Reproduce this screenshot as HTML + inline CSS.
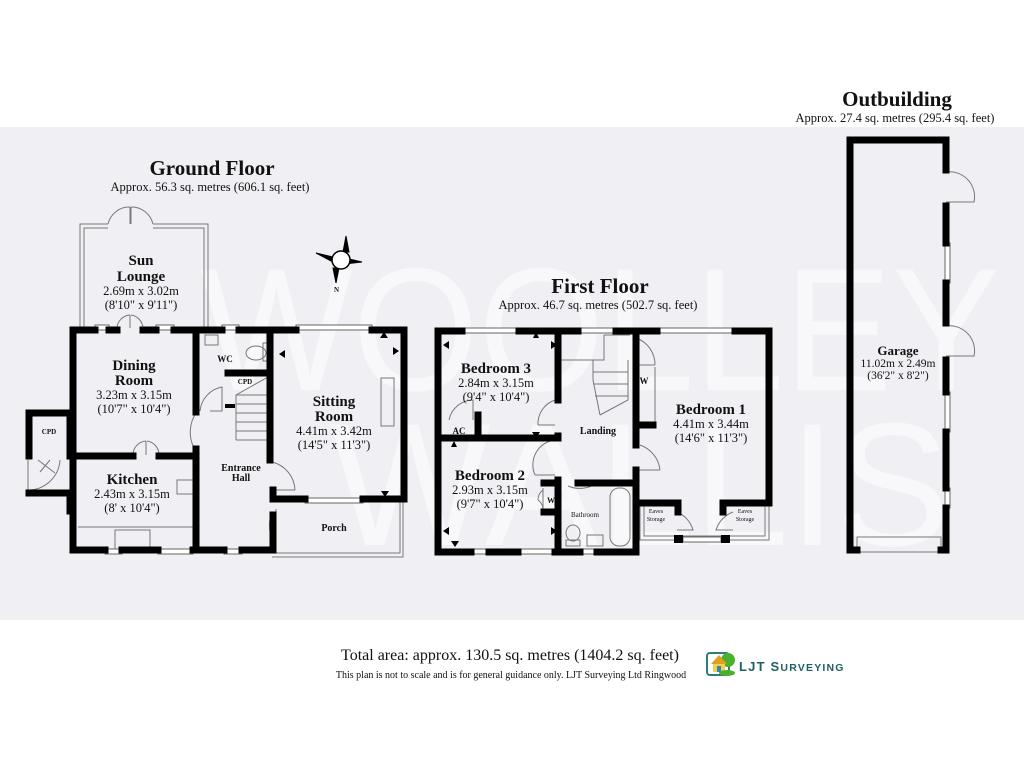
<!DOCTYPE html>
<html><head><meta charset="utf-8"><style>
html,body{margin:0;padding:0;background:#fff;}
svg{display:block;}
text{font-family:"Liberation Serif",serif;fill:#111;}
.b{font-weight:bold;}
</style></head><body>
<svg width="1024" height="768" viewBox="0 0 1024 768" xmlns="http://www.w3.org/2000/svg">
<rect x="0" y="127" width="1024" height="493" fill="#f0eff4"/>
<!-- watermark -->
<g opacity="0.55">
<text x="200" y="390" font-size="175" textLength="800" lengthAdjust="spacingAndGlyphs" style="font-family:'Liberation Sans',sans-serif;fill:#fff">WOOLLEY</text>
<text x="330" y="545" font-size="175" textLength="620" lengthAdjust="spacingAndGlyphs" style="font-family:'Liberation Sans',sans-serif;fill:#fff">WALLIS</text>
</g>

<!-- titles -->
<text x="212" y="175" font-size="21" class="b" text-anchor="middle">Ground Floor</text>
<text x="210" y="191" font-size="12.5" text-anchor="middle">Approx. 56.3 sq. metres (606.1 sq. feet)</text>
<text x="600" y="293" font-size="21" class="b" text-anchor="middle">First Floor</text>
<text x="598" y="309" font-size="12.5" text-anchor="middle">Approx. 46.7 sq. metres (502.7 sq. feet)</text>
<text x="897" y="106" font-size="21" class="b" text-anchor="middle">Outbuilding</text>
<text x="895" y="122" font-size="12.5" text-anchor="middle">Approx. 27.4 sq. metres (295.4 sq. feet)</text>

<!-- compass -->
<g stroke="#000" fill="#000">
<polygon points="346,236 343,252 349,252" />
<polygon points="316,253 333,257 333,262"/>
<polygon points="362,262 345,258 345,264"/>
<polygon points="336,283 339,268 333,268"/>
<circle cx="341" cy="260" r="9" fill="#fff" stroke-width="1.5"/>
</g>
<text x="334" y="292" font-size="7" class="b">N</text>

<!-- GROUND FLOOR -->
<g fill="none" stroke="#777" stroke-width="1">
<path d="M80,327 V224 H108 M153,224 H208 V327"/>
<path d="M84,327 V228 H108 M153,228 H204 V327"/>
<path d="M108,224 A22,22 0 0 1 130,207 M153,224 A22,22 0 0 0 131,207 M130,207 V224 M131,207 V224"/>
<path d="M272,557 H403 V500 M272,553 H400 V500"/>
<path d="M117,328 A14,14 0 0 1 130,315 M143,328 A14,14 0 0 0 131,315 M130,315 V328"/>
<path d="M133,455 A14,14 0 0 1 146,441 M159,455 A14,14 0 0 0 147,441 M146,441 V455"/>
<path d="M196,413 A35,35 0 0 0 194,448"/>
<path d="M272,462 A30,30 0 0 1 295,490 M272,490 H295"/>
<path d="M276,545 A32,32 0 0 1 272,513 M276,545 V509"/>
<path d="M200,411 A27,27 0 0 1 222,387 V411 H210"/>
<path d="M28,460 V490 M28,490 A32,32 0 0 0 60,460 M38,460 L55,473 M50,460 L40,472"/>
<path d="M236,440 V395 L268,377 M236,395 H268 M236,404 H268 M236,413 H268 M236,422 H268 M236,431 H268 M236,440 H268"/>
<rect x="205" y="335" width="13" height="10"/>
<ellipse cx="256" cy="353" rx="10" ry="7"/>
<rect x="263" y="343" width="7" height="18"/>
<rect x="381" y="378" width="13" height="48"/>
<rect x="115" y="530" width="35" height="20"/>
<rect x="177" y="480" width="16" height="14"/>
<path d="M78,527 H193"/>
</g>
<g fill="#fff" stroke="#666" stroke-width="1">
<rect x="95" y="325" width="14" height="5"/><rect x="156" y="325" width="18" height="5"/>
<rect x="222" y="325" width="17" height="5"/><rect x="296" y="325" width="76" height="5"/>
<rect x="70" y="347" width="5" height="17"/><rect x="70" y="511" width="5" height="17"/>
<rect x="305" y="498" width="58" height="5"/>
<rect x="105" y="549" width="17" height="5"/><rect x="158" y="549" width="35" height="5"/>
<rect x="224" y="549" width="18" height="5"/>
</g>
<g stroke="#000" stroke-width="7" fill="none" stroke-linecap="square">
<path d="M73,330 V550 H105 M122,550 H158 M193,550 H224 M242,550 H273 V515"/>
<path d="M73,330 H95 M109,330 H117 M143,330 H156 M174,330 H222 M239,330 H296 M372,330 H404 V499 H363 M305,499 H273 V490"/>
<path d="M196,330 V412 M196,449 V550"/>
<path d="M270,330 V460"/>
<path d="M78,456 H133 M159,456 H193"/>
<path d="M228,373 H268"/>
<path d="M29,413 H70 M29,413 V456 M70,413 V456 M29,493 H70 V511"/>
</g>
<rect x="225" y="404" width="10" height="4" fill="#000"/>
<g fill="#000">
<polygon points="380,338 384,332 388,338"/><polygon points="393,347 399,351 393,355"/>
<polygon points="285,350 279,354 285,358"/><polygon points="381,491 385,497 389,491"/>
</g>

<!-- FIRST FLOOR -->
<g fill="none" stroke="#777" stroke-width="1">
<path d="M559,346 V360 H604 V335 M593,360 V380 L600,415 M600,415 L628,400 V360 M604,335 H630"/>
<path d="M593,372 H628 M593,384 H628 M595,396 H628"/>
<path d="M636,338 A28,28 0 0 1 655,365 M655,365 H636"/>
<path d="M555,400 A25,25 0 0 0 538,425 M538,425 H555"/>
<path d="M555,440 A25,25 0 0 0 535,475 M535,475 H555"/>
<path d="M640,445 A30,30 0 0 1 660,470 M636,470 H660"/>
<path d="M449,420 A25,25 0 0 1 473,400 V420"/>
<path d="M568,486 A30,30 0 0 0 597,483"/>
<path d="M655,367 V425"/>
<path d="M543,488 V510 M543,490 A12,12 0 0 0 538,500 M543,510 A12,12 0 0 0 538,500"/>
<rect x="610" y="488" width="20" height="58" rx="9"/>
<ellipse cx="573" cy="533" rx="7" ry="8"/><rect x="566" y="540" width="14" height="6"/>
<rect x="587" y="535" width="16" height="11"/>
<path d="M640,503 V540 H769 V503 M644,503 V536 H765 V503"/>
<path d="M677,512 A28,28 0 0 1 693,530 H677 M733,512 A28,28 0 0 0 716,530 H733"/>
</g>
<g fill="#fff" stroke="#666" stroke-width="1">
<rect x="462" y="328" width="57" height="5"/><rect x="578" y="328" width="38" height="5"/>
<rect x="657" y="328" width="78" height="5"/>
<rect x="471" y="549" width="18" height="5"/><rect x="518" y="549" width="37" height="5"/>
<rect x="580" y="549" width="17" height="5"/><rect x="683" y="537" width="38" height="5"/>
</g>
<g stroke="#000" stroke-width="7" fill="none" stroke-linecap="square">
<path d="M438,331 H462 M519,331 H578 M616,331 H657 M735,331 H769 V503 H723"/>
<path d="M438,331 V552 H471 M489,552 H518 M555,552 H580 M597,552 H636 V470"/>
<path d="M636,331 V445"/><path d="M639,425 H653"/>
<path d="M558,331 V400 M558,436 V438 H442 M558,480 V552"/>
<path d="M478,415 V438"/>
<path d="M558,483 H544 M558,512 H544"/>
<path d="M578,483 H636"/>
<path d="M641,503 H678 M678,503 V512"/><path d="M723,503 V512"/>
</g>
<rect x="674" y="535" width="9" height="8" fill="#000"/><rect x="721" y="535" width="9" height="8" fill="#000"/>
<g fill="#000">
<polygon points="533,338 536,332 539,338"/><polygon points="449,341 443,345 449,349"/>
<polygon points="551,341 557,345 551,349"/><polygon points="532,432 536,438 540,432"/>
<polygon points="451,447 454,441 457,447"/><polygon points="449,527 443,531 449,535"/>
<polygon points="551,527 557,531 551,535"/><polygon points="451,541 455,547 459,541"/>
</g>

<!-- GARAGE -->
<g fill="none" stroke="#777" stroke-width="1">
<path d="M946,172 A25,25 0 0 1 974,202 H946 M946,326 A25,25 0 0 1 974,356 H946"/>
<rect x="857" y="537" width="84" height="15"/>
</g>
<g fill="#fff" stroke="#666" stroke-width="1">
<rect x="945" y="243" width="5" height="40"/><rect x="945" y="392" width="5" height="40"/><rect x="945" y="488" width="5" height="20"/>
</g>
<g stroke="#000" stroke-width="7" fill="none" stroke-linecap="square">
<path d="M857,550 H850 V140 H946 V170 M946,206 V243 M946,283 V323 M946,360 V392 M946,432 V488 M946,508 V550 H941"/>
</g>

<!-- room labels -->
<g text-anchor="middle">
<text x="141" y="265" font-size="15" class="b">Sun</text>
<text x="141" y="281" font-size="15" class="b">Lounge</text>
<text x="141" y="295" font-size="12.5">2.69m x 3.02m</text>
<text x="141" y="309" font-size="12.5">(8'10" x 9'11")</text>
<text x="134" y="370" font-size="15" class="b">Dining</text>
<text x="134" y="385" font-size="15" class="b">Room</text>
<text x="134" y="399" font-size="12.5">3.23m x 3.15m</text>
<text x="134" y="413" font-size="12.5">(10'7" x 10'4")</text>
<text x="132" y="484" font-size="15" class="b">Kitchen</text>
<text x="132" y="498" font-size="12.5">2.43m x 3.15m</text>
<text x="132" y="512" font-size="12.5">(8' x 10'4")</text>
<text x="49" y="434" font-size="7" class="b">CPD</text>
<text x="225" y="362" font-size="9" class="b">WC</text>
<text x="245" y="384" font-size="7" class="b">CPD</text>
<text x="241" y="471" font-size="10" class="b">Entrance</text>
<text x="241" y="481" font-size="10" class="b">Hall</text>
<text x="334" y="406" font-size="15" class="b">Sitting</text>
<text x="334" y="421" font-size="15" class="b">Room</text>
<text x="334" y="435" font-size="12.5">4.41m x 3.42m</text>
<text x="334" y="449" font-size="12.5">(14'5" x 11'3")</text>
<text x="334" y="531" font-size="10" class="b">Porch</text>
<text x="496" y="373" font-size="15" class="b">Bedroom 3</text>
<text x="496" y="387" font-size="12.5">2.84m x 3.15m</text>
<text x="496" y="401" font-size="12.5">(9'4" x 10'4")</text>
<text x="459" y="434" font-size="9" class="b">AC</text>
<text x="598" y="434" font-size="10" class="b">Landing</text>
<text x="644" y="384" font-size="9" class="b">W</text>
<text x="711" y="414" font-size="15" class="b">Bedroom 1</text>
<text x="711" y="428" font-size="12.5">4.41m x 3.44m</text>
<text x="711" y="442" font-size="12.5">(14'6" x 11'3")</text>
<text x="490" y="480" font-size="15" class="b">Bedroom 2</text>
<text x="490" y="494" font-size="12.5">2.93m x 3.15m</text>
<text x="490" y="508" font-size="12.5">(9'7" x 10'4")</text>
<text x="551" y="503" font-size="8" class="b">W</text>
<text x="585" y="517" font-size="7">Bathroom</text>
<text x="656" y="513" font-size="6">Eaves</text><text x="656" y="521" font-size="6">Storage</text>
<text x="745" y="513" font-size="6">Eaves</text><text x="745" y="521" font-size="6">Storage</text>
<text x="898" y="355" font-size="13" class="b">Garage</text>
<text x="898" y="367" font-size="11.5">11.02m x 2.49m</text>
<text x="898" y="379" font-size="11.5">(36'2" x 8'2")</text>
</g>

<!-- footer -->
<text x="510" y="660" font-size="16" text-anchor="middle">Total area: approx. 130.5 sq. metres (1404.2 sq. feet)</text>
<text x="511" y="678" font-size="10" text-anchor="middle">This plan is not to scale and is for general guidance only. LJT Surveying Ltd Ringwood</text>
<g>
<rect x="707" y="653" width="22" height="22" rx="3" fill="none" stroke="#2a7f7a" stroke-width="2"/>
<circle cx="728" cy="660" r="7" fill="#4caf2e"/>
<polygon points="711,664 719,655 727,664" fill="#e0a020"/>
<rect x="713" y="664" width="12" height="8" fill="#f4d04a"/>
<rect x="717" y="666" width="4" height="6" fill="#2a8ac0"/>
<ellipse cx="727" cy="673" rx="8" ry="3" fill="#4caf2e"/>
<text x="739" y="671" font-size="13" class="b" style="font-family:'Liberation Sans',sans-serif;fill:#1f5f66" letter-spacing="1.2">LJT S<tspan font-size="10.5">URVEYING</tspan></text>
</g>
</svg>
</body></html>
